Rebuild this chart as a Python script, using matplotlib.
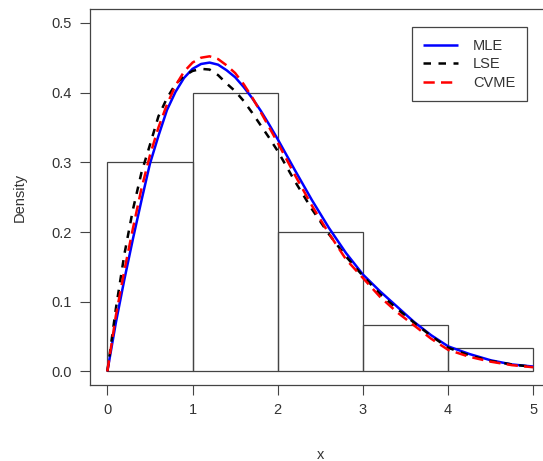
import matplotlib
matplotlib.use("Agg")
import matplotlib.pyplot as plt

# Histogram (density) data
bin_edges = [0, 1, 2, 3, 4, 5]
bin_density = [0.3, 0.4, 0.2, 0.0667, 0.0333]

# Fitted densities
x_fit = [0, 0.1, 0.2, 0.3, 0.4, 0.5, 0.6, 0.7, 0.8, 0.9, 1.0, 1.1, 1.2, 1.3, 1.4,
         1.5, 1.6, 1.7, 1.8, 1.9, 2.0, 2.2, 2.4, 2.6, 2.8, 3.0, 3.2, 3.4, 3.6, 3.8,
         4.0, 4.25, 4.5, 4.75, 5.0]
mle = [0, 0.070, 0.132, 0.190, 0.245, 0.298, 0.338, 0.375, 0.401, 0.421, 0.434,
       0.441, 0.443, 0.440, 0.432, 0.422, 0.408, 0.392, 0.374, 0.354, 0.333,
       0.289, 0.246, 0.206, 0.170, 0.139, 0.115, 0.093, 0.071, 0.052,
       0.036, 0.025, 0.016, 0.010, 0.007]
lse = [0, 0.090, 0.168, 0.232, 0.285, 0.325, 0.366, 0.392, 0.412, 0.424, 0.431,
       0.434, 0.433, 0.425, 0.413, 0.402, 0.388, 0.371, 0.353, 0.335, 0.316,
       0.273, 0.233, 0.197, 0.165, 0.137, 0.111, 0.090, 0.070, 0.051,
       0.034, 0.023, 0.015, 0.010, 0.0065]
cvme = [0, 0.080, 0.145, 0.205, 0.262, 0.310, 0.350, 0.383, 0.410, 0.430, 0.443,
        0.450, 0.452, 0.448, 0.439, 0.428, 0.412, 0.393, 0.372, 0.350, 0.328,
        0.282, 0.238, 0.198, 0.161, 0.134, 0.107, 0.085, 0.066, 0.047,
        0.031, 0.021, 0.014, 0.009, 0.006]

x_ticks = [0, 1, 2, 3, 4, 5]
y_ticks = [0.0, 0.1, 0.2, 0.3, 0.4, 0.5]
y_tick_labels = ["0.0", "0.1", "0.2", "0.3", "0.4", "0.5"]

plt.rcParams['font.family'] = ['Liberation Sans', 'DejaVu Sans']
txt = '#333333'

fig = plt.figure(figsize=(5.43, 4.61), dpi=100)
ax = fig.add_axes([90.3 / 543, 1 - 385.4 / 461, 460.1 / 543, 376.5 / 461])

widths = [bin_edges[i + 1] - bin_edges[i] for i in range(len(bin_density))]
ax.bar(bin_edges[:-1], bin_density, width=widths, align='edge',
       facecolor='none', edgecolor='#444444', linewidth=0.9, zorder=1)

ax.plot(x_fit, mle, color='#0000ff', lw=1.8, solid_capstyle='butt', label='MLE', zorder=3)
ax.plot(x_fit, lse, color='black', lw=1.8, dashes=(3, 3), label='LSE', zorder=4)
ax.plot(x_fit, cvme, color='#ff0000', lw=1.8, dashes=(4.5, 2.5), label='CVME', zorder=5)

ax.set_xlim(-0.2, 5.2)
ax.set_ylim(-0.02, 0.52)
ax.set_xticks(x_ticks)
ax.set_yticks(y_ticks)
ax.set_yticklabels(y_tick_labels)
ax.tick_params(axis='both', direction='out', length=7, width=0.8, colors='#444444',
               labelcolor=txt, labelsize=10.5, pad=6)
for s in ax.spines.values():
    s.set_color('#444444')
    s.set_linewidth(0.9)
ax.spines['right'].set_visible(False)

ax.set_xlabel('x', fontsize=10.5, color=txt, labelpad=22)
ax.set_ylabel('Density', fontsize=10.5, color=txt, labelpad=18)

leg = ax.legend(loc='upper left', bbox_to_anchor=(411.7 / 543, 1 - 27.3 / 461),
                bbox_transform=fig.transFigure, borderaxespad=0,
                fancybox=False, framealpha=1, edgecolor='#444444',
                fontsize=10.5, handlelength=2.4, handletextpad=1.0,
                labelspacing=0.3, borderpad=0.8)
leg.get_frame().set_linewidth(0.9)
for t in leg.get_texts():
    t.set_color(txt)

fig.savefig('out.png', dpi=100)
